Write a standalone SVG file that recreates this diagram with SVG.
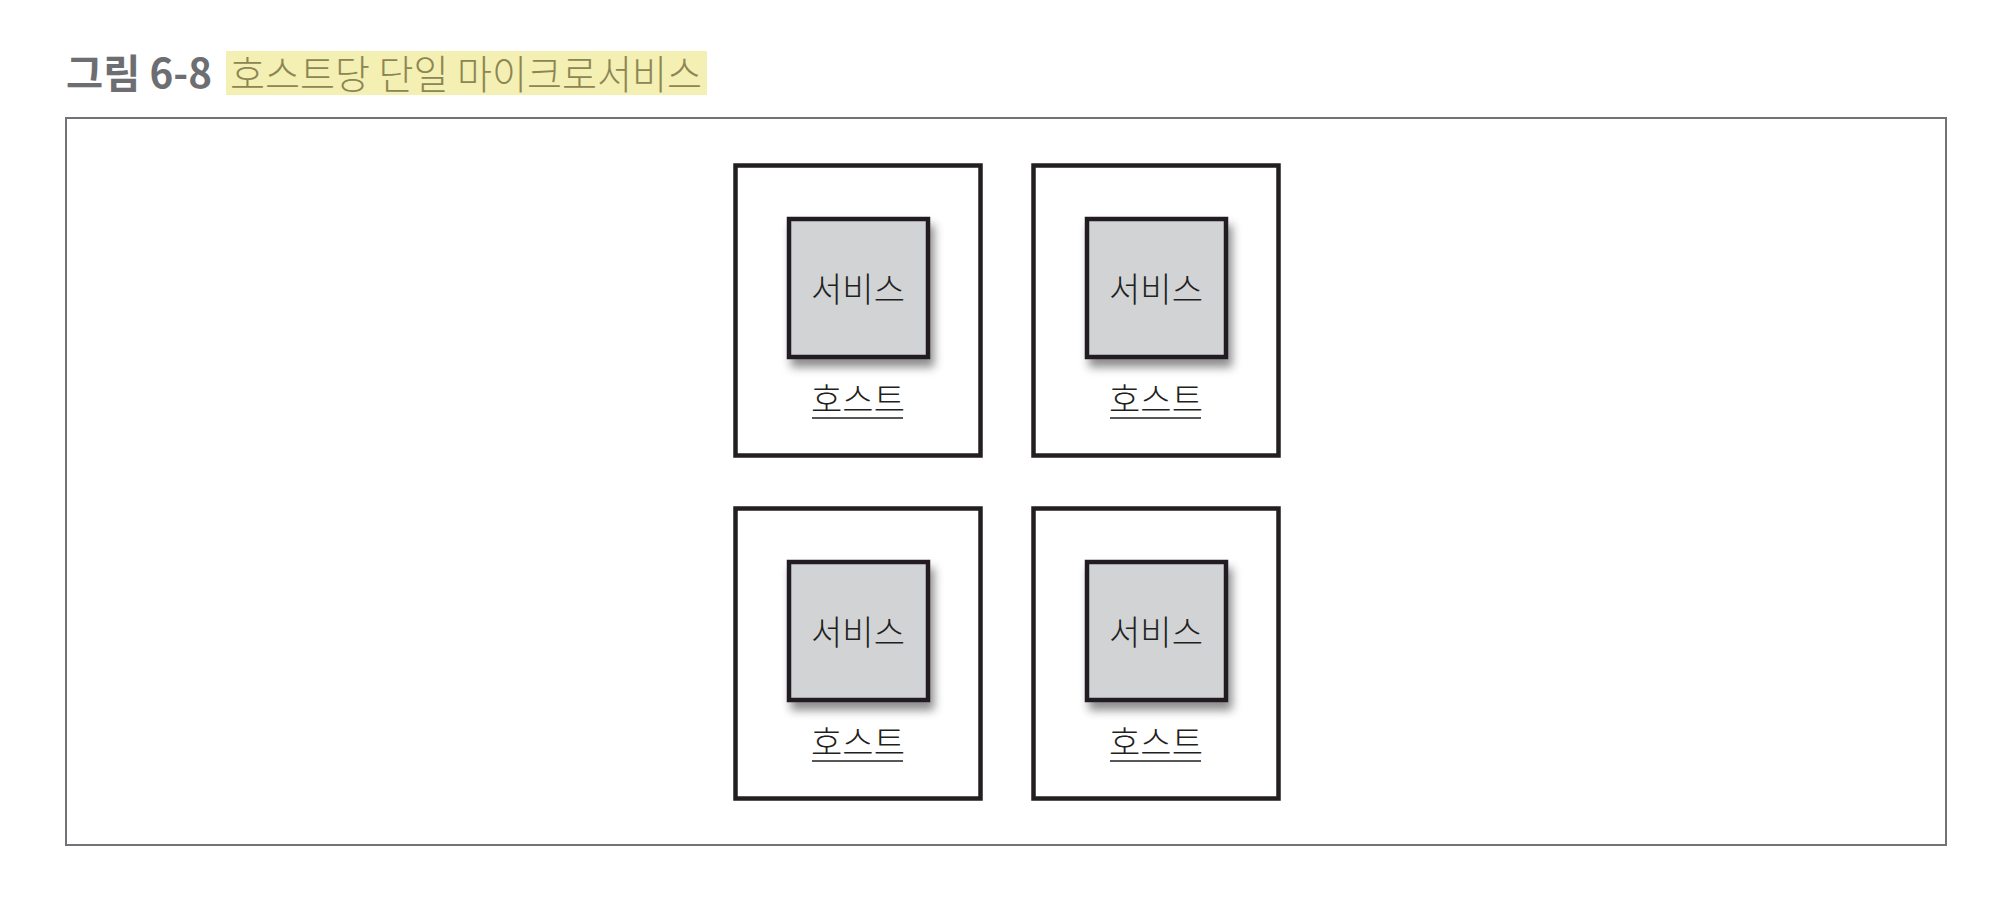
<svg xmlns="http://www.w3.org/2000/svg" width="2004" height="908" viewBox="0 0 2004 908">
<defs>
<style>
.host{fill:#ffffff;stroke:#231f20;stroke-width:4.5}
.svc{fill:#d1d3d4;stroke:#231f20;stroke-width:4.5;filter:url(#sh)}
.lbl{font-family:"Noto Sans CJK KR","Noto Sans",sans-serif;font-size:34px;font-weight:300;fill:#231f20;text-anchor:middle}
.ul{stroke:#231f20;stroke-width:1.6}
</style>
<filter id="sh" x="-25%" y="-25%" width="160%" height="160%">
<feDropShadow dx="4" dy="8" stdDeviation="5" flood-color="#000" flood-opacity="0.45"/>
</filter>
</defs>
<rect width="2004" height="908" fill="#ffffff"/>
<g id="title">
<text x="66" y="88" font-family="'Noto Sans CJK KR','Liberation Sans',sans-serif" font-weight="bold" font-size="40" fill="#6d6e71" textLength="146" lengthAdjust="spacingAndGlyphs">그림 6-8</text>
<rect x="226" y="51" width="481" height="44" fill="#f4efb2"/>
<text x="230" y="89" font-family="'Noto Sans CJK KR',sans-serif" font-size="40" font-weight="300" fill="#8c8654" textLength="472" lengthAdjust="spacingAndGlyphs">호스트당 단일 마이크로서비스</text>
</g>
<g id="frame">
<rect x="66" y="118" width="1880" height="727" fill="none" stroke="#727376" stroke-width="2"/>
</g>
<g id="host-1">
<rect class="host" x="735.5" y="165.5" width="245" height="290"/>
<rect class="svc" x="789" y="219" width="139" height="138"/>
<text class="lbl" x="858" y="302">서비스</text>
<text class="lbl" x="858" y="412">호스트</text>
<line class="ul" x1="812" y1="418" x2="903" y2="418"/>
</g>
<g id="host-2">
<rect class="host" x="1033.5" y="165.5" width="245" height="290"/>
<rect class="svc" x="1087" y="219" width="139" height="138"/>
<text class="lbl" x="1156" y="302">서비스</text>
<text class="lbl" x="1156" y="412">호스트</text>
<line class="ul" x1="1110" y1="418" x2="1201" y2="418"/>
</g>
<g id="host-3">
<rect class="host" x="735.5" y="508.5" width="245" height="290"/>
<rect class="svc" x="789" y="562" width="139" height="138"/>
<text class="lbl" x="858" y="645">서비스</text>
<text class="lbl" x="858" y="755">호스트</text>
<line class="ul" x1="812" y1="761" x2="903" y2="761"/>
</g>
<g id="host-4">
<rect class="host" x="1033.5" y="508.5" width="245" height="290"/>
<rect class="svc" x="1087" y="562" width="139" height="138"/>
<text class="lbl" x="1156" y="645">서비스</text>
<text class="lbl" x="1156" y="755">호스트</text>
<line class="ul" x1="1110" y1="761" x2="1201" y2="761"/>
</g>
<g id="connectors"></g>
</svg>
